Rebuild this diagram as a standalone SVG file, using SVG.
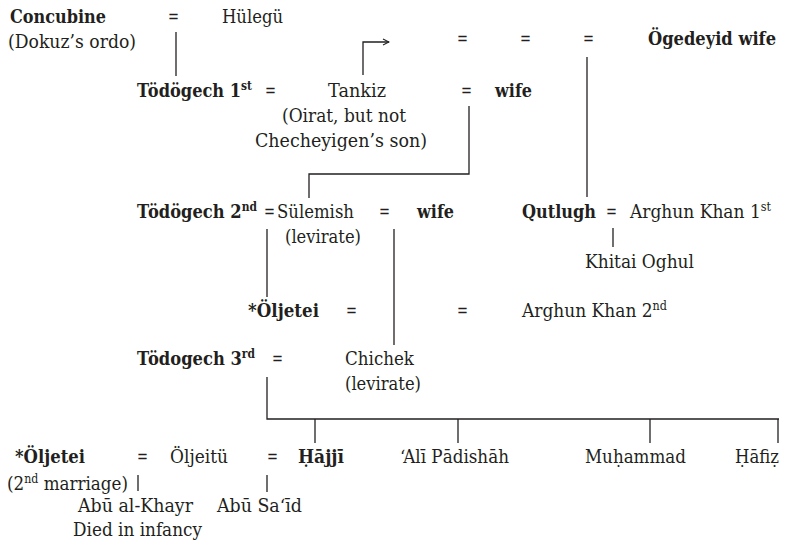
<svg xmlns="http://www.w3.org/2000/svg" width="788" height="543" viewBox="0 0 788 543">
  <style>
    text { font-family: "DejaVu Serif", "Liberation Serif", serif; font-size: 19px; fill: #231f20; }
    .b { font-weight: bold; }
    .sup { font-size: 12.5px; }
    .ln { fill: none; stroke: #231f20; stroke-width: 1.3; }
  </style>
  <defs>
    <marker id="arr" viewBox="0 0 8 8" refX="7" refY="4" markerWidth="8" markerHeight="8" markerUnits="userSpaceOnUse" orient="auto">
      <path d="M1,1 L7,4 L1,7" fill="none" stroke="#231f20" stroke-width="1.1"/>
    </marker>
  </defs>
  <rect width="788" height="543" fill="#ffffff"/>

  <!-- connectors -->
  <g id="connectors">
    <line class="ln" x1="176" y1="32" x2="176" y2="76"/>
    <polyline class="ln" points="363,75 363,42 389,42" marker-end="url(#arr)"/>
    <line class="ln" x1="587" y1="57" x2="587" y2="197"/>
    <polyline class="ln" points="469,106 469,174 309,174 309,198"/>
    <line class="ln" x1="267" y1="229" x2="267" y2="297"/>
    <line class="ln" x1="394" y1="229" x2="394" y2="345"/>
    <line class="ln" x1="613" y1="228" x2="613" y2="247" stroke-width="1"/>
    <polyline class="ln" points="267,377 267,419 779,419"/>
    <line class="ln" x1="315" y1="419" x2="315" y2="443"/>
    <line class="ln" x1="458" y1="419" x2="458" y2="443"/>
    <line class="ln" x1="650" y1="419" x2="650" y2="443"/>
    <line class="ln" x1="778" y1="419" x2="778" y2="443"/>
    <line class="ln" x1="138" y1="475" x2="138" y2="491" stroke-width="1"/>
    <line class="ln" x1="267" y1="475" x2="267" y2="492" stroke-width="1"/>
  </g>

  <!-- marriage signs -->
  <g id="marriage-signs">
    <text x="168" y="23" textLength="11" lengthAdjust="spacingAndGlyphs">=</text>
    <text x="457" y="45" textLength="11" lengthAdjust="spacingAndGlyphs">=</text>
    <text x="520" y="45" textLength="11" lengthAdjust="spacingAndGlyphs">=</text>
    <text x="583" y="45" textLength="11" lengthAdjust="spacingAndGlyphs">=</text>
    <text x="265" y="97" textLength="11" lengthAdjust="spacingAndGlyphs">=</text>
    <text x="461" y="97" textLength="11" lengthAdjust="spacingAndGlyphs">=</text>
    <text x="264" y="218" textLength="11" lengthAdjust="spacingAndGlyphs">=</text>
    <text x="379" y="218" textLength="11" lengthAdjust="spacingAndGlyphs">=</text>
    <text x="606" y="218" textLength="11" lengthAdjust="spacingAndGlyphs">=</text>
    <text x="346" y="317" textLength="11" lengthAdjust="spacingAndGlyphs">=</text>
    <text x="457" y="317" textLength="11" lengthAdjust="spacingAndGlyphs">=</text>
    <text x="272" y="365" textLength="11" lengthAdjust="spacingAndGlyphs">=</text>
    <text x="137" y="463" textLength="11" lengthAdjust="spacingAndGlyphs">=</text>
    <text x="267" y="463" textLength="11" lengthAdjust="spacingAndGlyphs">=</text>
  </g>

  <!-- generation 1 -->
  <g id="concubine">
    <text class="b" x="10" y="23" textLength="96" lengthAdjust="spacingAndGlyphs">Concubine</text>
    <text x="8" y="48" textLength="128" lengthAdjust="spacingAndGlyphs">(Dokuz’s ordo)</text>
  </g>
  <g id="hulegu"><text x="222" y="23" textLength="61" lengthAdjust="spacingAndGlyphs">Hülegü</text></g>
  <g id="ogedeyid-wife"><text class="b" x="648" y="45" textLength="128" lengthAdjust="spacingAndGlyphs">Ögedeyid wife</text></g>

  <!-- Tödögech, first marriage -->
  <g id="todogech-1">
    <text class="b" x="137" y="97" textLength="115" lengthAdjust="spacingAndGlyphs">Tödögech 1<tspan class="sup" dy="-7">st</tspan></text>
  </g>
  <g id="tankiz">
    <text x="328" y="97" textLength="58" lengthAdjust="spacingAndGlyphs">Tankiz</text>
    <text x="282" y="122" textLength="124" lengthAdjust="spacingAndGlyphs">(Oirat, but not</text>
    <text x="255" y="147" textLength="172" lengthAdjust="spacingAndGlyphs">Checheyigen’s son)</text>
  </g>
  <g id="tankiz-wife"><text class="b" x="495" y="97" textLength="37" lengthAdjust="spacingAndGlyphs">wife</text></g>

  <!-- Tödögech, second marriage -->
  <g id="todogech-2">
    <text class="b" x="137" y="218" textLength="120" lengthAdjust="spacingAndGlyphs">Tödögech 2<tspan class="sup" dy="-7">nd</tspan></text>
  </g>
  <g id="sulemish">
    <text x="277" y="218" textLength="77" lengthAdjust="spacingAndGlyphs">Sülemish</text>
    <text x="285" y="243" textLength="76" lengthAdjust="spacingAndGlyphs">(levirate)</text>
  </g>
  <g id="sulemish-wife"><text class="b" x="417" y="218" textLength="37" lengthAdjust="spacingAndGlyphs">wife</text></g>
  <g id="qutlugh"><text class="b" x="522" y="218" textLength="74" lengthAdjust="spacingAndGlyphs">Qutlugh</text></g>
  <g id="arghun-1">
    <text x="630" y="218" textLength="141" lengthAdjust="spacingAndGlyphs">Arghun Khan 1<tspan class="sup" dy="-7">st</tspan></text>
  </g>
  <g id="khitai-oghul"><text x="585" y="268" textLength="109" lengthAdjust="spacingAndGlyphs">Khitai Oghul</text></g>

  <!-- Öljetei -->
  <g id="oljetei"><text class="b" x="248" y="317" textLength="71" lengthAdjust="spacingAndGlyphs">*Öljetei</text></g>
  <g id="arghun-2">
    <text x="522" y="317" textLength="145" lengthAdjust="spacingAndGlyphs">Arghun Khan 2<tspan class="sup" dy="-7">nd</tspan></text>
  </g>

  <!-- Tödögech, third marriage -->
  <g id="todogech-3">
    <text class="b" x="137" y="365" textLength="118" lengthAdjust="spacingAndGlyphs">Tödogech 3<tspan class="sup" dy="-7">rd</tspan></text>
  </g>
  <g id="chichek">
    <text x="345" y="365" textLength="69" lengthAdjust="spacingAndGlyphs">Chichek</text>
    <text x="345" y="390" textLength="76" lengthAdjust="spacingAndGlyphs">(levirate)</text>
  </g>

  <!-- bottom generation -->
  <g id="oljetei-2">
    <text class="b" x="15" y="463" textLength="70" lengthAdjust="spacingAndGlyphs">*Öljetei</text>
    <text x="7" y="490" textLength="121" lengthAdjust="spacingAndGlyphs">(2<tspan class="sup" dy="-7">nd</tspan><tspan dy="7"> marriage)</tspan></text>
  </g>
  <g id="oljeitu"><text x="170" y="463" textLength="58" lengthAdjust="spacingAndGlyphs">Öljeitü</text></g>
  <g id="hajji"><text class="b" x="298" y="463" textLength="46" lengthAdjust="spacingAndGlyphs">Ḥājjī</text></g>
  <g id="ali-padishah"><text x="400" y="463" textLength="109" lengthAdjust="spacingAndGlyphs">‘Alī Pādishāh</text></g>
  <g id="muhammad"><text x="585" y="463" textLength="101" lengthAdjust="spacingAndGlyphs">Muḥammad</text></g>
  <g id="hafiz"><text x="735" y="463" textLength="44" lengthAdjust="spacingAndGlyphs">Ḥāfiẓ</text></g>
  <g id="abu-al-khayr">
    <text x="78" y="512" textLength="115" lengthAdjust="spacingAndGlyphs">Abū al-Khayr</text>
    <text x="73" y="536" textLength="129" lengthAdjust="spacingAndGlyphs">Died in infancy</text>
  </g>
  <g id="abu-said"><text x="217" y="512" textLength="85" lengthAdjust="spacingAndGlyphs">Abū Sa‘īd</text></g>
</svg>
